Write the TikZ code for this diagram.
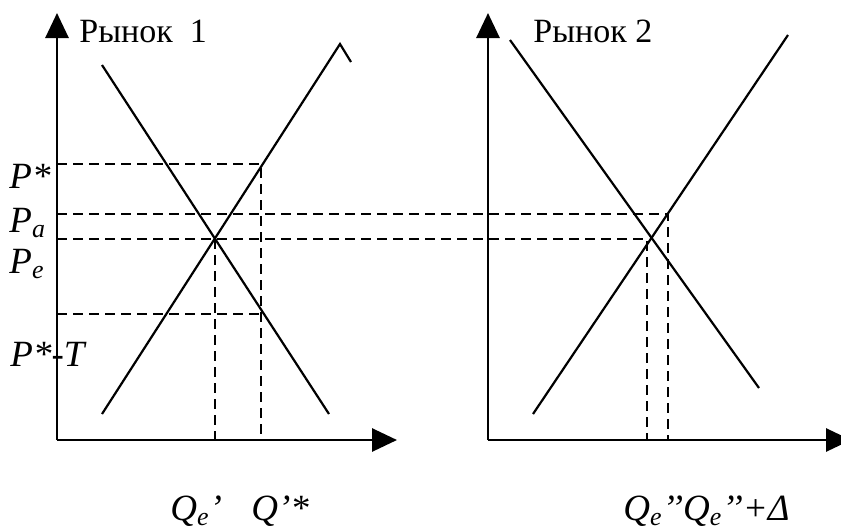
\documentclass[tikz,border=0pt]{standalone}
\usepackage{fontspec}
\setmainfont{Liberation Serif}
\usetikzlibrary{arrows.meta}

\begin{document}
\begin{tikzpicture}[
  x=0.5pt, y=-0.5pt, font=\fontsize{17}{20}\selectfont,
  axis/.style={line width=1.4pt, -{Triangle[length=12.5pt, width=11.5pt]}},
  curve/.style={line width=1.1pt},
  guide/.style={line width=1pt, dash pattern=on 5pt off 3pt},
  lbl/.style={inner sep=0pt, anchor=base west, font=\fontsize{18.5}{22}\selectfont\itshape},
  title/.style={inner sep=0pt, anchor=base west},
]
\useasboundingbox (0,0) rectangle (841,531);
\clip (0,0) rectangle (841,531);

% market 1
\coordinate (o1) at (57,440);
\coordinate (ytip1) at (57,13);
\coordinate (xtip1) at (397,440);
\coordinate (d1a) at (102,65);
\coordinate (d1b) at (329,414);
\coordinate (s1a) at (102,414);
\coordinate (s1b) at (340,44);
\coordinate (s1c) at (351,62);
\coordinate (e1) at (215,239);
\coordinate (star) at (261,164);
\coordinate (tax) at (261,314);

% market 2
\coordinate (o2) at (488,440);
\coordinate (ytip2) at (488,13);
\coordinate (xtip2) at (851,440);
\coordinate (d2a) at (510,40);
\coordinate (d2b) at (759,388);
\coordinate (s2a) at (533,414);
\coordinate (s2b) at (788,35);
\coordinate (pa2) at (668,214);
\coordinate (pe2) at (647,239);

% guides
\draw[guide] (o1 |- star) -- (star) -- (star |- o1);
\draw[guide] (o1 |- tax) -- (tax);
\draw[guide] (o1 |- pa2) -- (pa2) -- (pa2 |- o2);
\draw[guide] (o1 |- pe2) -- (pe2) -- (pe2 |- o2);
\draw[guide] (e1) -- (e1 |- o1);

% axes
\draw[axis] (o1) -- (ytip1);
\draw[axis] (o1) -- (xtip1);
\draw[axis] (o2) -- (ytip2);
\draw[axis] (o2) -- (xtip2);

% demand and supply
\draw[curve] (d1a) -- (d1b);
\draw[curve] (s1a) -- (s1b) -- (s1c);
\draw[curve] (d2a) -- (d2b);
\draw[curve] (s2a) -- (s2b);

% labels
\node[title] (mkt1) at (79,42) {Рынок\ \ 1};
\node[title] (mkt2) at (533,42) {Рынок 2};
\node[lbl] (pstar) at (9,188) {P*};
\node[lbl] (pa) at (9,232) {P\textsubscript{a}};
\node[lbl] (pe) at (9,273) {P\textsubscript{e}};
\node[lbl] (ptax) at (10,366) {P*-T};
\node[lbl] (qe1) at (170,520) {Q\textsubscript{e}’};
\node[lbl] (qstar) at (251,520) {Q’*};
\node[lbl] (qe2) at (623,520) {Q\textsubscript{e}’’Q\textsubscript{e}’’+Δ};
\end{tikzpicture}
\end{document}
